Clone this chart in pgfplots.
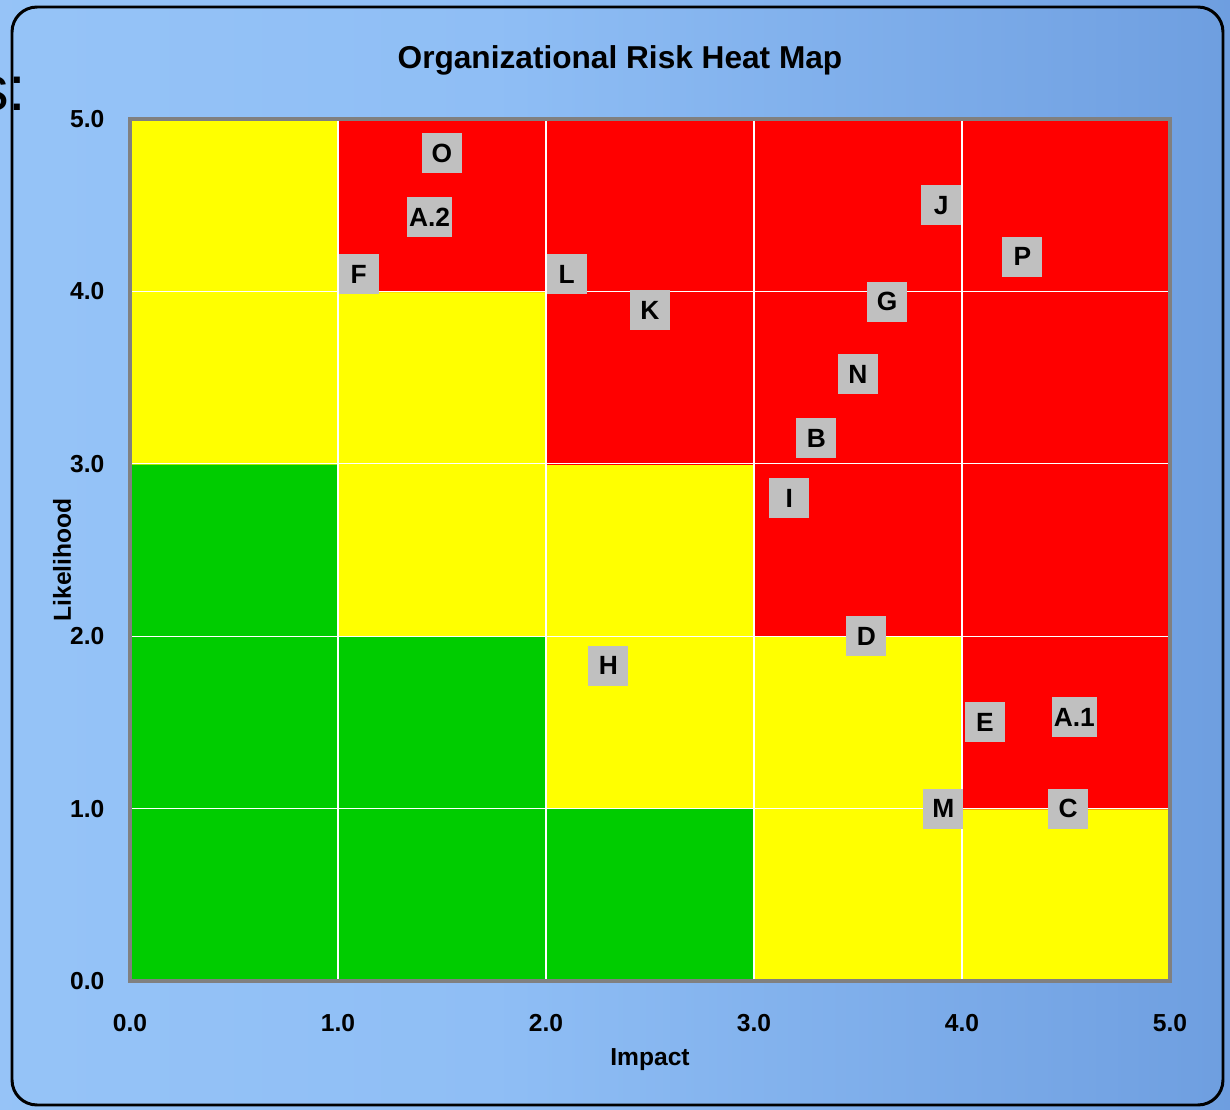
\documentclass[border=0pt]{standalone}
\usepackage{pgfplots}
\pgfplotsset{compat=1.18}
\usepackage{fontspec}
\setmainfont{Liberation Sans}

\definecolor{bgA}{RGB}{158,202,250}
\definecolor{bgB}{RGB}{143,190,245}
\definecolor{bgC}{RGB}{116,164,228}
\definecolor{bgD}{RGB}{94,143,212}
\definecolor{bgE}{RGB}{70,116,188}
\definecolor{boxgray}{RGB}{192,192,192}
\definecolor{framegray}{RGB}{128,128,128}
\pgfdeclarehorizontalshading{bgshade}{100bp}{color(0bp)=(bgA); color(45bp)=(bgB); color(70bp)=(bgC); color(88bp)=(bgD); color(100bp)=(bgE)}

% cells: 0 = green, 1 = yellow, 2 = red
\pgfplotstableread{
x   y   c
0.5 0.5 0
1.5 0.5 0
2.5 0.5 0
3.5 0.5 1
4.5 0.5 1
0.5 1.5 0
1.5 1.5 0
2.5 1.5 1
3.5 1.5 1
4.5 1.5 2
0.5 2.5 0
1.5 2.5 1
2.5 2.5 1
3.5 2.5 2
4.5 2.5 2
0.5 3.5 1
1.5 3.5 1
2.5 3.5 2
3.5 3.5 2
4.5 3.5 2
0.5 4.5 1
1.5 4.5 2
2.5 4.5 2
3.5 4.5 2
4.5 4.5 2
}\cells

\pgfplotstableread{
x    y    label
1.50 4.80 O
1.44 4.43 A.2
1.10 4.10 F
2.10 4.10 L
2.50 3.89 K
3.90 4.50 J
4.29 4.20 P
3.64 3.94 G
3.50 3.52 N
3.30 3.15 B
3.17 2.80 I
3.54 2.00 D
2.30 1.83 H
4.11 1.50 E
4.54 1.53 A.1
3.91 1.00 M
4.51 1.00 C
}\risks

\begin{document}
\begin{tikzpicture}[x=0.1mm,y=0.1mm]
\useasboundingbox (0,0) rectangle (1230,1109);
\shade[shading=bgshade] (0,0) rectangle (1230,1109);
\node[anchor=base east, inner sep=0pt, font=\fontsize{18}{20}\selectfont] at (27,999) {s:};
\draw[black, line width=0.85pt, rounded corners=2.5mm] (12,4) rectangle (1223,1102);

\begin{axis}[
  at={(13mm,12.8mm)}, anchor=south west,
  scale only axis, width=104mm, height=86.2mm,
  xmin=0, xmax=5, ymin=0, ymax=5,
  xtick={0,1,2,3,4,5}, ytick={0,1,2,3,4,5},
  major tick length=0pt,
  axis on top,
  axis line style={draw=framegray, line width=0.9pt},
  /pgf/number format/fixed,
  /pgf/number format/fixed zerofill,
  /pgf/number format/precision=1,
  /pgf/number format/assume math mode=true,
  tick label style={font=\bfseries\fontsize{7}{8}\selectfont},
  xticklabel style={anchor=north, inner sep=0pt, yshift=-3.3mm},
  yticklabel style={anchor=east, inner sep=0pt, xshift=-2.5mm},
  colormap={risk}{rgb255=(0,204,0) rgb255=(255,255,0) rgb255=(255,0,0)},
  colormap access=direct,
]
\addplot[matrix plot*, mesh/cols=5, point meta=explicit] table[meta=c] {\cells};
\addplot[white, line width=0.35pt, unbounded coords=jump] coordinates {
  (1,0) (1,5) (nan,nan) (2,0) (2,5) (nan,nan) (3,0) (3,5) (nan,nan) (4,0) (4,5) (nan,nan)
  (0,1) (5,1) (nan,nan) (0,2) (5,2) (nan,nan) (0,3) (5,3) (nan,nan) (0,4) (5,4)
};
\addplot[only marks, mark=none, point meta=explicit symbolic, nodes near coords,
  every node near coord/.append style={anchor=center, fill=boxgray, text=black,
    minimum width=4mm, minimum height=4mm, inner sep=0.2mm,
    font=\bfseries\fontsize{7.5}{9}\selectfont}]
  table[meta=label] {\risks};
\end{axis}

\node[font=\bfseries\fontsize{9}{11}\selectfont] at (620,1049) {Organizational Risk Heat Map};
\node[font=\bfseries\fontsize{7}{8}\selectfont] at (650,49) {Impact};
\node[font=\bfseries\fontsize{7}{8}\selectfont, rotate=90] at (62,549) {Likelihood};
\end{tikzpicture}
\end{document}
